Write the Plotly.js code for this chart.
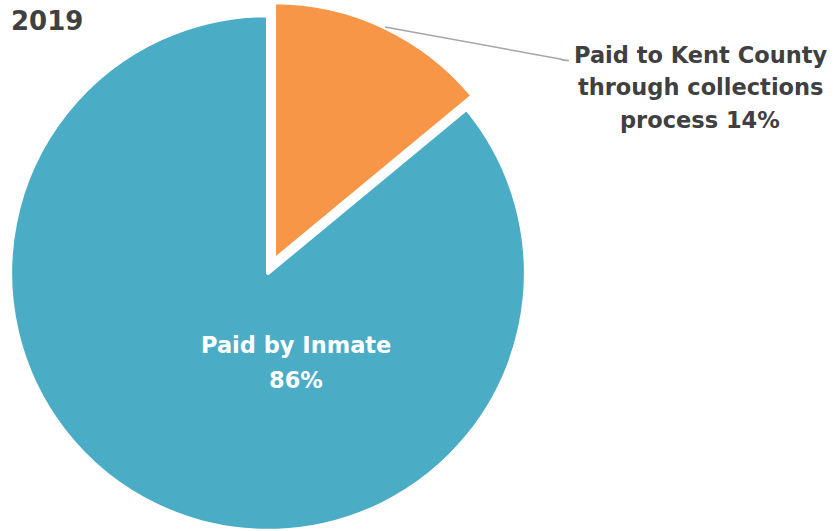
<!DOCTYPE html>
<html>
<head>
<meta charset="utf-8">
<script src="https://cdn.plot.ly/plotly-3.0.1.min.js"></script>
<style>
  html, body { margin: 0; padding: 0; width: 835px; height: 531px; overflow: hidden; background: #fff; }
  #chart { position: absolute; left: -5px; top: 1px; width: 840px; height: 544px; }
</style>
</head>
<body>
<div id="chart"></div>
<script>
const chartTitle = "2019";
const labels = ["Paid to Kent County through collections process", "Paid by Inmate"];
const values = [14, 86];
const colors = ["#F79646", "#4BACC6"];
const pulls = [0.055, 0];
const outsideLines = ["Paid to Kent County", "through collections", "process " + values[0] + "%"];
const insideLines = [labels[1], values[1] + "%"];

const W = 840, H = 544;
const OX = 5, OY = -1; // page-to-div offset
const font = "DejaVu Sans, Arial, sans-serif";
const px = x => (x + OX) / W;
const py = y => 1 - (y + OY) / H;

const trace = {
  type: "pie",
  values: values,
  labels: labels,
  sort: false,
  direction: "clockwise",
  rotation: 0,
  pull: pulls,
  textinfo: "none",
  hoverinfo: "label+percent",
  marker: { colors: colors, line: { color: "#ffffff", width: 4 } },
  domain: { x: [0, 546 / W], y: [0, 1] },
  showlegend: false
};

const annotations = [
  {
    text: "<b>" + chartTitle + "</b>",
    xref: "paper", yref: "paper",
    x: px(9), y: py(21),
    xanchor: "left", yanchor: "middle",
    showarrow: false,
    font: { size: 26, color: "#404040", family: font }
  }
];
const outY = [55, 87, 120];
outsideLines.forEach((t, i) => annotations.push({
  text: "<b>" + t + "</b>",
  xref: "paper", yref: "paper",
  x: px(700), y: py(outY[i]),
  xanchor: "center", yanchor: "middle",
  showarrow: false,
  font: { size: 22.5, color: "#404040", family: font }
}));
const inY = [345, 380];
insideLines.forEach((t, i) => annotations.push({
  text: "<b>" + t + "</b>",
  xref: "paper", yref: "paper",
  x: px(296), y: py(inY[i]),
  xanchor: "center", yanchor: "middle",
  showarrow: false,
  font: { size: 22.5, color: "#ffffff", family: font }
}));

const layout = {
  width: W,
  height: H,
  margin: { l: 0, r: 0, t: 0, b: 0 },
  paper_bgcolor: "#ffffff",
  showlegend: false,
  font: { family: font },
  annotations: annotations,
  shapes: [
    {
      type: "path",
      xref: "paper", yref: "paper",
      path: "M " + px(385) + " " + py(27) +
            " L " + px(560) + " " + py(59) +
            " Q " + px(563) + " " + py(60.5) + " " + px(569) + " " + py(60.5),
      line: { color: "#a6a6a6", width: 1.5 }
    }
  ]
};

Plotly.newPlot("chart", [trace], layout, { displayModeBar: false, staticPlot: true });
</script>
</body>
</html>
